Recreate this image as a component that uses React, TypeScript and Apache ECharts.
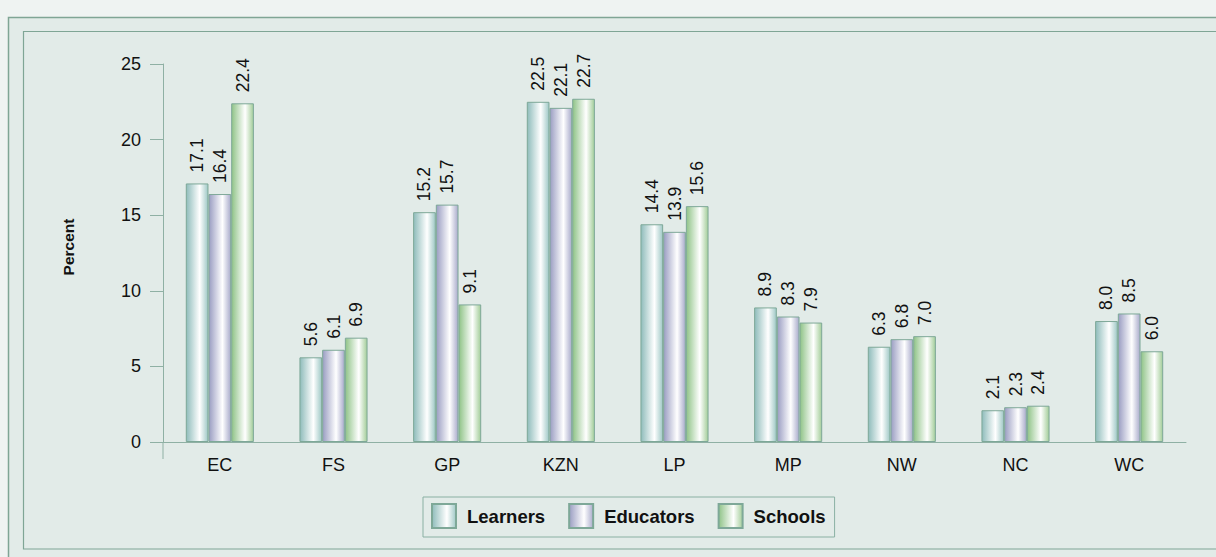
import React, { useEffect, useRef } from "react";
import * as echarts from "echarts";

const categories = ["EC", "FS", "GP", "KZN", "LP", "MP", "NW", "NC", "WC"];
const learners = [17.1, 5.6, 15.2, 22.5, 14.4, 8.9, 6.3, 2.1, 8.0];
const educators = [16.4, 6.1, 15.7, 22.1, 13.9, 8.3, 6.8, 2.3, 8.5];
const schools = [22.4, 6.9, 9.1, 22.7, 15.6, 7.9, 7.0, 2.4, 6.0];
const seriesNames = ["Learners", "Educators", "Schools"];
const yTicks = { min: 0, max: 25, interval: 5 };

const FONT = "Liberation Sans, Arial, Helvetica, sans-serif";

function grad(edge: string, edge2: string) {
  return new echarts.graphic.LinearGradient(0, 0, 1, 0, [
    { offset: 0, color: edge },
    { offset: 0.62, color: "#ffffff" },
    { offset: 1, color: edge2 },
  ]);
}

export default function App() {
  const ref = useRef<HTMLDivElement>(null);
  useEffect(() => {
    const chart = echarts.init(ref.current!, null, { renderer: "svg" });
    const fills = [
      grad("#8fbcbb", "#9fc8c6"),
      grad("#9a9dc2", "#a9abcb"),
      grad("#8fc387", "#a3cd99"),
    ];
    const datas = [learners, educators, schools];
    chart.setOption({
      animation: false,
      backgroundColor: "#eff3f2",
      textStyle: { fontFamily: FONT },
      graphic: [
        {
          type: "rect",
          shape: { x: 8.5, y: 17.5, width: 1300, height: 700 },
          style: { fill: "#e2ebe8", stroke: "#7fa595", lineWidth: 1.5 },
          z: -10,
        },
        {
          type: "rect",
          shape: { x: 23.5, y: 31.5, width: 1300, height: 517.5 },
          style: { fill: "#e2ebe8", stroke: "#7fa595", lineWidth: 1.2 },
          z: -9,
        },
        {
          type: "line",
          shape: { x1: 163, y1: 442, x2: 163, y2: 459 },
          style: { stroke: "#8fb0a4", lineWidth: 1 },
        },
        {
          type: "text",
          x: 68,
          y: 247,
          rotation: Math.PI / 2,
          style: {
            text: "Percent",
            fontFamily: FONT,
            fontWeight: "bold",
            fontSize: 15.5,
            fill: "#111",
            align: "center",
            verticalAlign: "middle",
          },
        },
      ],
      grid: { left: 163, right: 30, top: 64, bottom: 115, containLabel: false },
      legend: {
        left: 423,
        top: 497,
        data: seriesNames,
        icon: "rect",
        itemWidth: 24,
        itemHeight: 24,
        itemGap: 23,
        padding: [6, 9, 8, 8],
        borderColor: "#8ab0a3",
        borderWidth: 1,
        textStyle: { fontFamily: FONT, fontWeight: "bold", fontSize: 18.5, color: "#111", padding: [0, 0, 0, 6] },
      },
      xAxis: {
        type: "category",
        data: categories,
        axisLine: { lineStyle: { color: "#8fb0a4", width: 1 } },
        axisTick: { show: false },
        axisLabel: { fontFamily: FONT, fontSize: 18, color: "#111", margin: 14 },
      },
      yAxis: {
        type: "value",
        min: yTicks.min,
        max: yTicks.max,
        interval: yTicks.interval,
        splitLine: { show: false },
        axisLine: { show: true, lineStyle: { color: "#8fb0a4", width: 1 } },
        axisTick: { show: true, length: 13, lineStyle: { color: "#8fb0a4" } },
        axisLabel: { fontFamily: FONT, fontSize: 18, color: "#111", margin: 22 },
      },
      series: seriesNames.map((name, i) => ({
        name,
        type: "bar",
        data: datas[i],
        barWidth: 22.7,
        barGap: "0%",
        itemStyle: { color: fills[i], borderColor: "#7ea898", borderWidth: 1 },
        label: {
          show: true,
          position: "top",
          rotate: 90,
          align: "left",
          verticalAlign: "middle",
          distance: 11,
          fontFamily: FONT,
          fontSize: 17.5,
          color: "#111",
          formatter: (p: any) => Number(p.value).toFixed(1),
        },
      })),
    });
    return () => chart.dispose();
  }, []);
  return <div ref={ref} style={{ width: 1216, height: 557, position: "absolute", left: 0, top: 0 }} />;
}
